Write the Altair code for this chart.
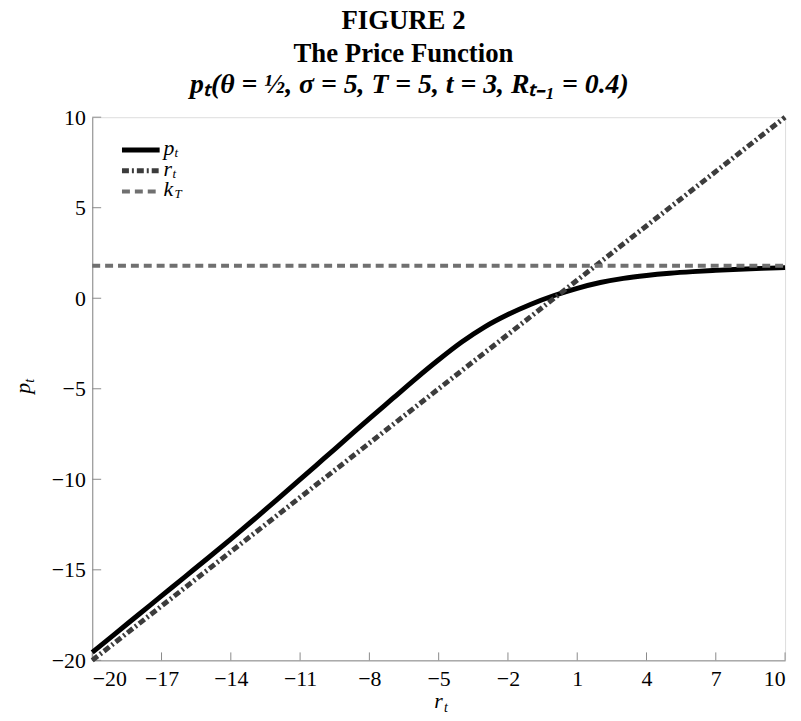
import altair as alt
import pandas as pd

# ---- data ----
r_grid = [-20, -19, -18, -17, -16, -15, -14, -13, -12, -11, -10, -9, -8, -7, -6, -5, -4,
          -3, -2, -1, 0, 1, 2, 3, 4, 5, 6, 7, 8, 9, 10]
p_values = [-19.56, -18.52, -17.48, -16.44, -15.40, -14.36, -13.30, -12.22, -11.12, -10.01,
            -8.89, -7.77, -6.65, -5.55, -4.45, -3.40, -2.42, -1.58, -0.90, -0.33, 0.15,
            0.55, 0.87, 1.10, 1.26, 1.38, 1.47, 1.54, 1.60, 1.65, 1.69]
r_line_x = [-20, 10]
r_line_y = [-20, 10]
k_line_x = [-20, 10]
k_line_y = [1.8, 1.8]
x_ticks = [-20, -17, -14, -11, -8, -5, -2, 1, 4, 7, 10]
y_ticks = [-20, -15, -10, -5, 0, 5, 10]
title_lines = ["FIGURE 2", "The Price Function", "pₜ(θ = ½, σ = 5, T = 5, t = 3, Rₜ₋₁ = 0.4)"]

W, H = 699, 548
SERIF = "Liberation Serif"
GRAY = "#8a8a8a"

xs = alt.Scale(domain=[-20, 10], nice=False, zero=False)
ys = alt.Scale(domain=[-20, 10], nice=False, zero=False)
x_axis = alt.Axis(values=x_ticks, tickSize=0, ticks=False, grid=False, title=None,
                  labelFont=SERIF, labelFontSize=22, labelColor="black",
                  domainColor=GRAY, domainWidth=1, labelPadding=8, format="d")
y_axis = alt.Axis(values=y_ticks, tickSize=0, ticks=False, grid=False, title=None,
                  labelFont=SERIF, labelFontSize=22, labelColor="black",
                  domainColor=GRAY, domainWidth=1, labelPadding=7, format="d")

def X(f):
    return alt.X(f, type="quantitative", scale=xs, axis=x_axis)

def Y(f):
    return alt.Y(f, type="quantitative", scale=ys, axis=y_axis)

p_df = pd.DataFrame({"r": r_grid, "p": p_values})
r_df = pd.DataFrame({"r": r_line_x, "p": r_line_y})
k_df = pd.DataFrame({"r": k_line_x, "p": k_line_y})

R_COL = "#3c3c3c"
K_COL = "#707070"
R_DASH = [7, 3, 2, 3]
K_DASH = [8, 5]

p_layer = alt.Chart(p_df).mark_line(color="black", strokeWidth=5, interpolate="monotone").encode(x=X("r"), y=Y("p"))
r_layer = alt.Chart(r_df).mark_line(color=R_COL, strokeWidth=5, strokeDash=R_DASH, strokeCap="butt").encode(x=X("r"), y=Y("p"))
k_layer = alt.Chart(k_df).mark_line(color=K_COL, strokeWidth=4, strokeDash=K_DASH, strokeCap="butt").encode(x=X("r"), y=Y("p"))

# inward ticks
yt_df = pd.DataFrame({"v": y_ticks})
xt_df = pd.DataFrame({"v": x_ticks})
y_tick_layer = alt.Chart(yt_df).mark_rule(color=GRAY, strokeWidth=1).encode(
    y=Y("v"), x=alt.value(0), x2=alt.value(9))
x_tick_layer = alt.Chart(xt_df).mark_rule(color=GRAY, strokeWidth=1).encode(
    x=X("v"), y=alt.value(H), y2=alt.value(H - 8))

one = alt.Data(values=[{}])

def txt(text, x, y, size, style="normal", weight="normal", align="left", angle=0, baseline="alphabetic"):
    return alt.Chart(one).mark_text(text=text, font=SERIF, fontSize=size, fontStyle=style,
                                    fontWeight=weight, align=align, baseline=baseline,
                                    angle=angle, color="black").encode(x=alt.value(x), y=alt.value(y))

def leg_line(y, color, width, dash=None):
    kw = dict(color=color, strokeWidth=width, strokeCap="butt")
    if dash:
        kw["strokeDash"] = dash
    return alt.Chart(one).mark_rule(**kw).encode(x=alt.value(30), x2=alt.value(68), y=alt.value(y))

legend = [
    leg_line(33, "black", 5),
    leg_line(54, R_COL, 5, R_DASH),
    leg_line(75, K_COL, 4, K_DASH),
    txt("p", 72, 38, 22, style="italic"), txt("t", 83, 40, 13, style="italic"),
    txt("r", 72, 59, 22, style="italic"), txt("t", 81, 61, 13, style="italic"),
    txt("k", 72, 80, 22, style="italic"), txt("T", 83, 82, 13, style="italic"),
]

labels = [
    txt("r", 345, 596, 22, style="italic"), txt("t", 355, 600, 14, style="italic"),
    txt("p", -63, 279, 22, style="italic", angle=270), txt("t", -59, 268, 14, style="italic", angle=270),
]

titles = [
    txt(title_lines[0], 314, -89, 27, weight="bold", align="center"),
    txt(title_lines[1], 314, -56, 27, weight="bold", align="center"),
    txt(title_lines[2], 320, -24, 28, weight="bold", style="italic", align="center"),
]

chart = alt.layer(
    y_tick_layer, x_tick_layer, p_layer, r_layer, k_layer, *legend, *labels, *titles
).properties(
    width=W, height=H,
    autosize=alt.AutoSizeParams(type="none"),
    padding={"left": 85, "top": 107, "right": 8, "bottom": 55},
).configure_view(stroke=None).configure(background="white")

chart.save("out.html", embed_options={"renderer": "svg", "actions": False})
